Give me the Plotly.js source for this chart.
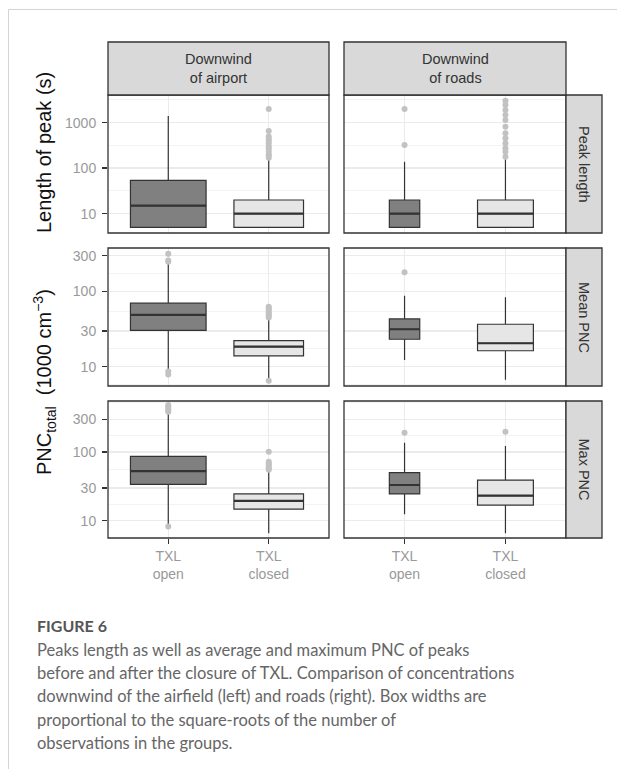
<!DOCTYPE html>
<html>
<head>
<meta charset="utf-8">
<script src="https://cdn.plot.ly/plotly-3.0.1.min.js"></script>
<style>
  html, body { margin: 0; padding: 0; background: #ffffff; }
  #chart { width: 617px; height: 769px; }
</style>
</head>
<body>
<div id="chart"></div>
<script>
// ---------------- DATA ----------------
const metrics = ["Peak length", "Mean PNC", "Max PNC"];
const sites = ["Downwind<br>of airport", "Downwind<br>of roads"];
const periods = ["TXL<br>open", "TXL<br>closed"];
// relative square-root of number of observations [site][period]
const relSqrtN = [[1.00, 0.92], [0.40, 0.735]];

// statistics indexed [metric][site][period]
const lowerWhisker = [
  [[5, 5], [5, 5]],
  [[9.0, 6.8], [12.3, 6.7]],
  [[8.65, 6.55], [12.4, 6.55]]
];
const q1 = [
  [[5, 5], [5, 5]],
  [[30.5, 13.9], [23.2, 16.3]],
  [[33.9, 14.7], [24.5, 16.9]]
];
const median = [
  [[15, 10], [10, 10]],
  [[49, 18.5], [31.5, 20.5]],
  [[52.8, 19.4], [33.1, 23.1]]
];
const q3 = [
  [[54, 20], [20, 20]],
  [[70, 22.2], [43.2, 36.7]],
  [[86.5, 24.5], [50, 39.1]]
];
const upperWhisker = [
  [[1400, 159], [139, 157]],
  [[234, 43], [87.7, 84]],
  [[357, 51.6], [137, 122]]
];
const outliers = [
  [[[], [2000, 658, 500, 437, 400, 352, 300, 274, 240, 204, 190, 170]],
   [[2000, 324], [3048, 2450, 1900, 1477, 1146, 817, 585, 454, 352, 274, 231, 179]]],
  [[[318, 260, 250, 8.6, 7.9], [63, 60, 56, 53, 50, 48, 45, 6.5]],
   [[181], []]],
  [[[483, 460, 432, 410, 386, 8.2], [101, 72, 68, 64.5, 61, 58, 55]],
   [[191], [198]]]
];

const yTickVals = [[10, 100, 1000], [10, 30, 100, 300], [10, 30, 100, 300]];
const yTickLabels = [["10", "100", "1000"], ["10", "30", "100", "300"], ["10", "30", "100", "300"]];

const yTitles = ["Length of peak (s)", "PNC<sub>total</sub>&nbsp; (1000 cm<sup>−3</sup>)"];
const figLabel = "FIGURE 6";
const captionLines = [
  "Peaks length as well as average and maximum PNC of peaks",
  "before and after the closure of TXL. Comparison of concentrations",
  "downwind of the airfield (left) and roads (right). Box widths are",
  "proportional to the square-roots of the number of",
  "observations in the groups."
];

// ---------------- LAYOUT GEOMETRY ----------------
const W = 617, H = 769;
const colPx = [[108, 329], [344, 566]];
const rowPx = [[95, 233], [248, 386], [401, 538]];
const yRanges = [[0.576, 3.609], [0.743, 2.580], [0.748, 2.743]];
const minorVals = [
  [31.62, 316.2, 3162],
  [5.77, 17.34, 54.83, 173.4],
  [5.77, 17.34, 54.83, 173.4, 520]
];
const strip = { top: 42, bottom: 95, right0: 566, right1: 602 };
const maxBoxWidth = 0.753;
const fills = ["#808080", "#e6e6e6"];
const px = v => v / W;
const py = v => 1 - v / H;

const traces = [];
const layout = {
  width: W, height: H, autosize: false,
  margin: { l: 0, r: 0, t: 0, b: 0, pad: 0 },
  paper_bgcolor: "#ffffff", plot_bgcolor: "#ffffff",
  showlegend: false, hovermode: false,
  font: { family: "Liberation Sans, Arial, sans-serif", color: "#333" },
  boxmode: "overlay",
  shapes: [], annotations: []
};

metrics.forEach((metric, r) => {
  sites.forEach((site, c) => {
    const idx = r * 2 + c + 1;
    const sfx = idx === 1 ? "" : String(idx);
    const xa = "x" + sfx, ya = "y" + sfx;

    layout["xaxis" + sfx] = {
      domain: [px(colPx[c][0]), px(colPx[c][1])],
      anchor: ya,
      type: "category",
      categoryorder: "array", categoryarray: periods,
      range: [-0.6, 1.6],
      showgrid: true, gridcolor: "#ebebeb", gridwidth: 1.5,
      zeroline: false, showline: false,
      ticks: r === 2 ? "outside" : "", ticklen: 5, tickwidth: 1.5, tickcolor: "#333",
      showticklabels: r === 2,
      tickfont: { size: 14, color: "#999", family: "Liberation Sans, Arial, sans-serif" },
      fixedrange: true
    };
    layout["yaxis" + sfx] = {
      domain: [py(rowPx[r][1]), py(rowPx[r][0])],
      anchor: xa,
      type: "log",
      range: yRanges[r],
      tickmode: "array", tickvals: yTickVals[r], ticktext: yTickLabels[r],
      showgrid: true, gridcolor: "#ebebeb", gridwidth: 1.5,
      minor: { tickmode: "array", tickvals: minorVals[r], showgrid: true, gridcolor: "#f2f2f2", gridwidth: 0.9, ticks: "" },
      zeroline: false, showline: false,
      ticks: c === 0 ? "outside" : "", ticklen: 5, tickwidth: 1.5, tickcolor: "#333",
      ticklabelstandoff: 3,
      showticklabels: c === 0,
      tickfont: { size: 14, color: "#999", family: "Liberation Sans, Arial, sans-serif" },
      fixedrange: true
    };

    periods.forEach((per, p) => {
      const w = maxBoxWidth * relSqrtN[c][p];
      const outl = outliers[r][c][p];
      if (outl.length) {
        traces.push({
          type: "scatter", mode: "markers",
          x: outl.map(() => per), y: outl,
          xaxis: xa, yaxis: ya,
          marker: { color: "#c2c2c2", size: 6, line: { width: 0 } },
          hoverinfo: "skip", showlegend: false, cliponaxis: true
        });
      }
      traces.push({
        type: "box", x: [per],
        q1: [q1[r][c][p]], median: [median[r][c][p]], q3: [q3[r][c][p]],
        lowerfence: [lowerWhisker[r][c][p]], upperfence: [upperWhisker[r][c][p]],
        width: w, whiskerwidth: 0, boxpoints: false,
        fillcolor: fills[p], line: { color: "#333333", width: 1.2 },
        xaxis: xa, yaxis: ya, hoverinfo: "skip", showlegend: false
      });
      // thicker median line
      traces.push({
        type: "box", x: [per],
        q1: [median[r][c][p]], median: [median[r][c][p]], q3: [median[r][c][p]],
        lowerfence: [median[r][c][p]], upperfence: [median[r][c][p]],
        width: w, whiskerwidth: 0, boxpoints: false,
        fillcolor: "rgba(0,0,0,0)", line: { color: "#333333", width: 2.2 },
        xaxis: xa, yaxis: ya, hoverinfo: "skip", showlegend: false
      });
    });

    // panel border
    layout.shapes.push({
      type: "rect", xref: "paper", yref: "paper", layer: "above",
      x0: px(colPx[c][0]), x1: px(colPx[c][1]), y0: py(rowPx[r][1]), y1: py(rowPx[r][0]),
      line: { color: "#333333", width: 1.3 }, fillcolor: "rgba(0,0,0,0)"
    });
  });

  // right strip
  layout.shapes.push({
    type: "rect", xref: "paper", yref: "paper", layer: "above",
    x0: px(strip.right0), x1: px(strip.right1), y0: py(rowPx[r][1]), y1: py(rowPx[r][0]),
    line: { color: "#333333", width: 1.3 }, fillcolor: "#d9d9d9"
  });
  layout.annotations.push({
    xref: "paper", yref: "paper", x: px((strip.right0 + strip.right1) / 2), y: py((rowPx[r][0] + rowPx[r][1]) / 2),
    text: metric, showarrow: false, textangle: 90, xanchor: "center", yanchor: "middle",
    font: { size: 14.5, color: "#333", family: "Liberation Sans, Arial, sans-serif" }
  });
});

// top strips
sites.forEach((site, c) => {
  layout.shapes.push({
    type: "rect", xref: "paper", yref: "paper", layer: "above",
    x0: px(colPx[c][0]), x1: px(colPx[c][1]), y0: py(strip.bottom), y1: py(strip.top),
    line: { color: "#333333", width: 1.3 }, fillcolor: "#d9d9d9"
  });
  layout.annotations.push({
    xref: "paper", yref: "paper", x: px((colPx[c][0] + colPx[c][1]) / 2), y: py((strip.top + strip.bottom) / 2),
    text: site, showarrow: false, xanchor: "center", yanchor: "middle",
    font: { size: 14.5, color: "#333", family: "Liberation Sans, Arial, sans-serif" }
  });
});

// y titles
layout.annotations.push({
  xref: "paper", yref: "paper", x: px(44), y: py(153), text: yTitles[0],
  showarrow: false, textangle: -90, xanchor: "center", yanchor: "middle",
  font: { size: 20, color: "#111", family: "Liberation Sans, Arial, sans-serif" }
});
layout.annotations.push({
  xref: "paper", yref: "paper", x: px(44), y: py(382), text: yTitles[1],
  showarrow: false, textangle: -90, xanchor: "center", yanchor: "middle",
  font: { size: 20, color: "#111", family: "Liberation Sans, Arial, sans-serif" }
});

// page frame lines
layout.shapes.push({ type: "line", xref: "paper", yref: "paper", x0: px(8.5), x1: 1, y0: py(9.5), y1: py(9.5), line: { color: "#d4d4d4", width: 1 } });
layout.shapes.push({ type: "line", xref: "paper", yref: "paper", x0: px(8.5), x1: px(8.5), y0: py(9.5), y1: 0, line: { color: "#d4d4d4", width: 1 } });

// caption
layout.annotations.push({
  xref: "paper", yref: "paper", x: px(35), y: py(625), text: "<b>" + figLabel + "</b>",
  showarrow: false, xanchor: "left", yanchor: "middle",
  font: { size: 16, color: "#555", family: "Lato, Open Sans, sans-serif" }
});
captionLines.forEach((line, i) => {
  layout.annotations.push({
    xref: "paper", yref: "paper", x: px(35), y: py(649.5 + i * 23.4), text: line,
    showarrow: false, xanchor: "left", yanchor: "middle",
    font: { size: 16.5, color: "#666", family: "Lato, Open Sans, sans-serif" }
  });
});

Plotly.newPlot("chart", traces, layout, { staticPlot: true, displayModeBar: false });
</script>
</body>
</html>
